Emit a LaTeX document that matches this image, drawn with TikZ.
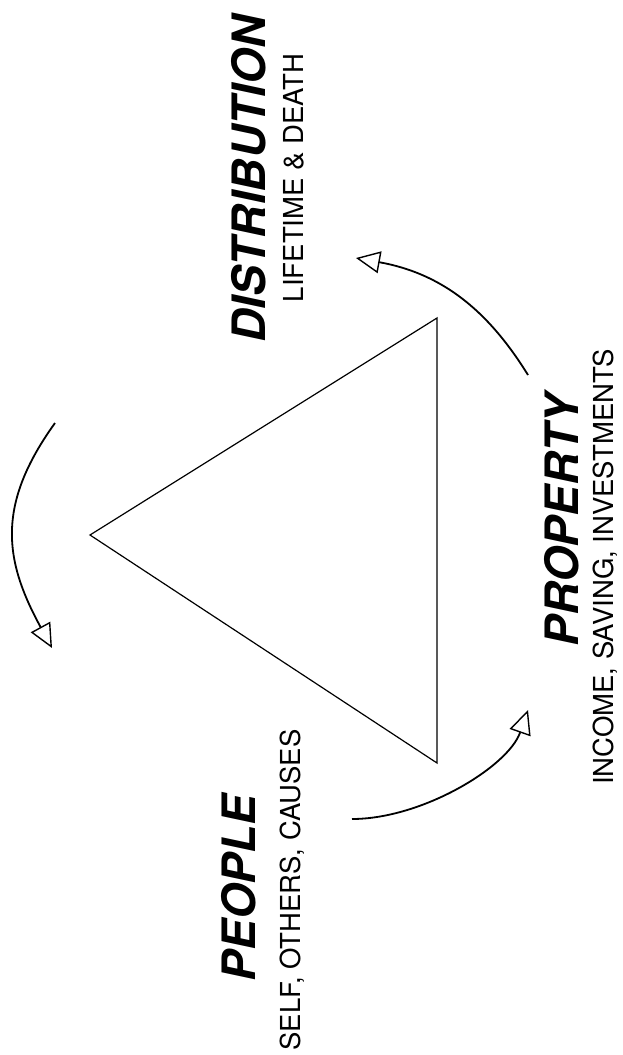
\documentclass[tikz,border=0pt]{standalone}
\usepackage{fontspec}
\setmainfont{TeX Gyre Heros}
\usetikzlibrary{arrows.meta}

\begin{document}
\begin{tikzpicture}[x=1pt, y=-1pt,
    title/.style={rotate=90, anchor=base, inner sep=0pt, font=\fontsize{46}{46}\selectfont\bfseries\itshape},
    subtitle/.style={rotate=90, anchor=base, inner sep=0pt, font=\fontsize{27.5}{27.5}\selectfont},
    cyclearrow/.style={line width=1.8pt, -{Triangle[open, length=24pt, width=22pt, line width=1.4pt]}}]
            \useasboundingbox (0,0) rectangle (622,1055);
            % corners of the triangle
            \coordinate (l) at (90,535);
            \coordinate (t) at (437,318);
            \coordinate (b) at (437,763);
            \draw[line width=1.2pt] (l) -- (t) -- (b) -- cycle;
            % labels
            \node[title] (dist) at (265,179) {DISTRIBUTION};
            \node[subtitle] (life) at (303,178) {LIFETIME \& DEATH};
            \node[title] (people) at (255,888) {PEOPLE};
            \node[subtitle] (self) at (300,890) {SELF, OTHERS, CAUSES};
            \node[title] (prop) at (578,520) {PROPERTY};
            \node[subtitle] (income) at (613,567) {INCOME, SAVING, INVESTMENTS};
            % arrows round the triangle
            \coordinate (a1) at (55,423);
            \coordinate (a2) at (52,648);
            \coordinate (b1) at (528,375);
            \coordinate (b2) at (356,258);
            \coordinate (c1) at (352,819);
            \coordinate (c2) at (528,710);
            \draw[cyclearrow] (a1) .. controls (-4,505) and (4,560) .. (a2);
            \draw[cyclearrow] (b1) .. controls (486,307) and (439,273) .. (b2);
            \draw[cyclearrow] (c1) .. controls (422,819) and (508,767) .. (c2);
        \end{tikzpicture}
\end{document}
